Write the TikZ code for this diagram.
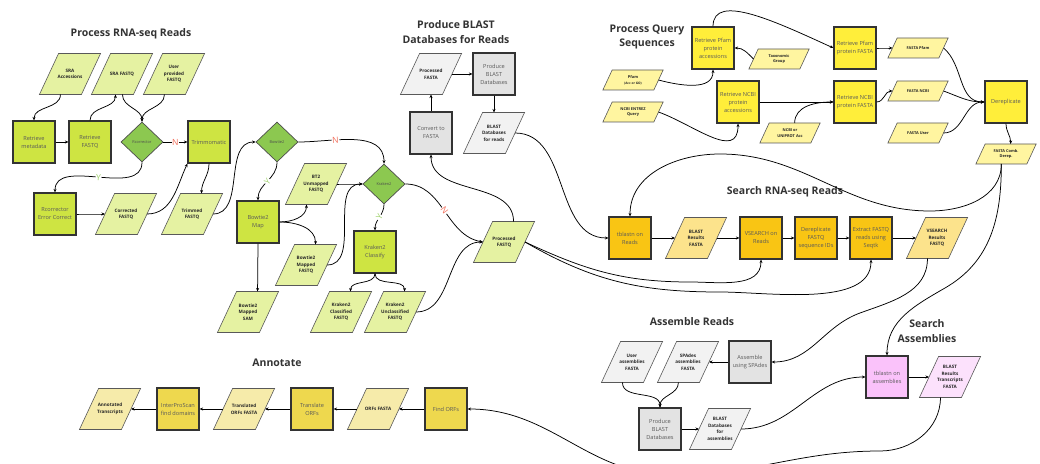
\documentclass[tikz,border=0pt]{standalone}
\usepackage{fontspec}
\setmainfont{Open Sans}
\usepackage{tikz}
\usetikzlibrary{arrows.meta,positioning,calc,shapes.geometric}
\definecolor{limebox}{RGB}{206,228,66}
\definecolor{limepara}{RGB}{229,242,162}
\definecolor{greendiam}{RGB}{140,200,80}
\definecolor{graybox}{RGB}{227,227,227}
\definecolor{graypara}{RGB}{242,242,242}
\definecolor{yelbox}{RGB}{255,238,58}
\definecolor{yelpara}{RGB}{255,245,160}
\definecolor{orbox}{RGB}{249,197,20}
\definecolor{orpara}{RGB}{252,227,140}
\definecolor{annbox}{RGB}{238,216,78}
\definecolor{annpara}{RGB}{246,235,170}
\definecolor{pinkbox}{RGB}{250,194,250}
\definecolor{pinkpara}{RGB}{252,225,252}
\definecolor{yesgreen}{RGB}{160,210,110}
\definecolor{nored}{RGB}{242,110,90}
\newcommand{\boxfont}{\fontsize{5.6}{8}\selectfont}
\newcommand{\parafont}{\fontsize{4.6}{6.6}\selectfont\bfseries}
\newcommand{\qparafont}{\fontsize{3.9}{5.8}\selectfont\bfseries}
\newcommand{\diamfont}{\fontsize{3.9}{5}\selectfont}
\newcommand{\headfont}{\fontsize{10.5}{14.5}\selectfont\bfseries}

% slanted data box: body is a rectangle, sides lean right
\makeatletter
\newdimen\sb@xa \newdimen\sb@ya \newdimen\sb@xb \newdimen\sb@yb \newdimen\sb@s
\def\sb@getsize{%
  \southwest\sb@xa=\pgf@x\sb@ya=\pgf@y
  \northeast\sb@xb=\pgf@x\sb@yb=\pgf@y
  \sb@s=\sb@yb\advance\sb@s by-\sb@ya
  \sb@s=0.233\sb@s}
\pgfdeclareshape{slantbox}{%
  \inheritsavedanchors[from=rectangle]%
  \inheritanchorborder[from=rectangle]%
  \inheritanchor[from=rectangle]{center}%
  \inheritanchor[from=rectangle]{text}%
  \inheritanchor[from=rectangle]{base}%
  \inheritanchor[from=rectangle]{mid}%
  \inheritanchor[from=rectangle]{north}%
  \inheritanchor[from=rectangle]{south}%
  \inheritanchor[from=rectangle]{east}%
  \inheritanchor[from=rectangle]{west}%
  \anchor{top side}{\sb@getsize
    \pgf@x=\dimexpr(\sb@xa+\sb@xb)/2+\sb@s\relax \pgf@y=\sb@yb}%
  \anchor{bottom side}{\sb@getsize
    \pgf@x=\dimexpr(\sb@xa+\sb@xb)/2-\sb@s\relax \pgf@y=\sb@ya}%
  \backgroundpath{\sb@getsize
    \pgfpathmoveto{\pgfqpoint{\dimexpr\sb@xa-\sb@s\relax}{\sb@ya}}%
    \pgfpathlineto{\pgfqpoint{\dimexpr\sb@xb-\sb@s\relax}{\sb@ya}}%
    \pgfpathlineto{\pgfqpoint{\dimexpr\sb@xb+\sb@s\relax}{\sb@yb}}%
    \pgfpathlineto{\pgfqpoint{\dimexpr\sb@xa+\sb@s\relax}{\sb@yb}}%
    \pgfpathclose}%
}
\makeatother

\begin{document}
\begin{tikzpicture}[x=1pt, y=1pt,
    box/.style={rectangle, draw=black!80, line width=1.2pt, minimum width=42pt,
        minimum height=42pt, inner sep=1pt, align=center, font=\boxfont, text=black!65},
    para/.style={shape=slantbox, draw=black!65, line width=0.6pt, minimum width=42pt,
        minimum height=41pt, inner sep=0.5pt, outer sep=0pt, align=center, font=\parafont,
        text=black!85},
    qpara/.style={para, minimum width=51pt, minimum height=20pt, font=\qparafont},
    dec/.style={diamond, draw=black!70, line width=0.7pt, fill=greendiam, minimum width=42pt,
        minimum height=40pt, inner sep=0pt, font=\diamfont, text=black!70},
    heading/.style={font=\headfont, text=black!80, align=center},
    arr/.style={-{Stealth[length=3.5pt,width=3pt]}, line width=0.75pt},
    ylab/.style={fill=white, inner sep=0.6pt, sloped, font=\fontsize{8.5}{8.5}\selectfont, text=yesgreen},
    nlab/.style={fill=white, inner sep=0.6pt, sloped, font=\fontsize{8.5}{8.5}\selectfont, text=nored}
]
\useasboundingbox (0,0) rectangle (1040,463);

% process RNA-seq reads
\node[heading] (tproc) at (131,429) {Process RNA-seq Reads};
\node[para, fill=limepara] (sraacc) at (70,389) {SRA\\Accessions};
\node[para, fill=limepara] (srafq) at (122,389) {SRA FASTQ};
\node[para, fill=limepara] (userfq) at (174,389) {User\\provided\\FASTQ};
\node[box, fill=limebox] (retmeta) at (34,321) {Retrieve\\metadata};
\node[box, fill=limebox] (retfq) at (90,321) {Retrieve\\FASTQ};
\node[dec] (rcor) at (142,321) {Rcorrector};
\node[box, fill=limebox] (trim) at (209,321) {Trimmomatic};
\node[dec] (bt2) at (277,321) {Bowtie2};
\node[box, fill=limebox] (rcorec) at (55,249) {Rcorrector\\Error Correct};
\node[para, fill=limepara] (corrfq) at (126,249) {Corrected\\FASTQ};
\node[para, fill=limepara] (trimfq) at (192,249) {Trimmed\\FASTQ};
\node[box, fill=limebox] (bt2map) at (258,241) {Bowtie2\\Map};
\node[para, fill=limepara] (bt2unm) at (316,279) {BT2\\Unmapped\\FASTQ};
\node[dec] (kr2) at (384,279) {Kraken2};
\node[para, fill=limepara] (bt2mfq) at (306,198) {Bowtie2\\Mapped\\FASTQ};
\node[para, fill=limepara] (bt2sam) at (248,151) {Bowtie2\\Mapped\\SAM};
\node[box, fill=limebox] (kr2cls) at (375,211) {Kraken2\\Classify};
\node[para, fill=limepara] (kr2cfq) at (341,151) {Kraken2\\Classified\\FASTQ};
\node[para, fill=limepara] (kr2ufq) at (395,151) {Kraken2\\Unclassified\\FASTQ};
\node[para, fill=limepara] (procfq) at (504,221) {Processed\\FASTQ};

\draw[arr] (sraacc.bottom side) to[out=-90,in=90] (retmeta.north);
\draw[arr] (retfq.north) to[out=90,in=-90] ([xshift=3pt]srafq.bottom side);
\draw[arr] ([xshift=10pt]srafq.bottom side) to[out=-90,in=90] (rcor.north);
\draw[arr] (userfq.bottom side) to[out=-90,in=90] (rcor.north);
\draw[arr] (retmeta) -- (retfq);
\draw[arr] (rcor) -- node[nlab]{N} (trim);
\draw[arr] (rcor.south) to[out=-90,in=90] node[ylab]{Y} (rcorec.north);
\draw[arr] (rcorec.east) to[out=0,in=180] (corrfq.west);
\draw[arr] (corrfq.east) to[out=0,in=-115] (trim.south west);
\draw[arr] (trim.south) to[out=-90,in=90] (trimfq.top side);
\draw[arr] (trimfq.east) to[out=0,in=180] (bt2.west);
\draw[arr] (bt2.south) to[out=-90,in=90] node[ylab]{Y} (bt2map.north);
\draw[arr] (bt2.east) to[out=0,in=90] node[nlab, pos=0.33]{N} (kr2.north);
\draw[arr] (bt2map.east) to[out=0,in=-90] (bt2unm.bottom side);
\draw[arr] (bt2map.east) to[out=0,in=90] (bt2mfq.top side);
\draw[arr] (bt2unm.east) to[out=0,in=180] (kr2.west);
\draw[arr] (bt2mfq.east) to[out=0,in=180] (kr2.west);
\draw[arr] (bt2map.south) -- (bt2sam.top side);
\draw[arr] (kr2.south) to[out=-90,in=90] node[ylab]{Y} (kr2cls.north);
\draw[arr] (kr2cls.south) to[out=-90,in=90] (kr2cfq.top side);
\draw[arr] (kr2cls.south) to[out=-90,in=90] (kr2ufq.top side);
\draw[arr] (kr2ufq.east) to[out=0,in=180] (procfq.west);
\draw[arr] (kr2.east) to[out=0,in=170] node[nlab]{N} (procfq.west);

% blast databases for reads
\node[heading] (tdbr) at (456,431) {Produce BLAST\\Databases for Reads};
\node[para, fill=graypara] (procfa) at (431,389) {Processed\\FASTA};
\node[box, fill=graybox] (convfa) at (431,330) {Convert to\\FASTA};
\node[box, fill=graybox] (prodbr) at (494,389) {Produce\\BLAST\\Databases};
\node[para, fill=graypara] (dbreads) at (494,330) {BLAST\\Databases\\for reads};

\draw[arr] (procfq.top side) to[out=90,in=-90] (convfa.south);
\draw[arr] (convfa.north) -- (convfa.north |- procfa.bottom side);
\draw[arr] (procfa.east) -- (prodbr.west);
\draw[arr] (prodbr.south) -- (prodbr.south |- dbreads.top side);

% process query sequences
\node[heading] (tquery) at (647,426) {Process Query\\Sequences};
\node[qpara, fill=yelpara] (pfam) at (633,383) {Pfam\\{\fontsize{3.2}{5}\selectfont(Acc or GO)}};
\node[qpara, fill=yelpara] (entrez) at (633,351) {NCBI ENTREZ\\Query};
\node[box, fill=yelbox] (retpfacc) at (713,415) {Retrieve Pfam\\protein\\accessions};
\node[box, fill=yelbox] (retncacc) at (738,361) {Retrieve NCBI\\protein\\accessions};
\node[qpara, fill=yelpara] (taxgrp) at (779,404) {Taxonomic\\Group};
\node[box, fill=yelbox] (retpffa) at (855,415) {Retrieve Pfam\\protein FASTA};
\node[box, fill=yelbox] (retncfa) at (855,361) {Retrieve NCBI\\protein FASTA};
\node[qpara, fill=yelpara] (uniacc) at (790,330) {NCBI or\\UNIPROT Acc};
\node[qpara, fill=yelpara] (fapfam) at (918,415) {FASTA Pfam};
\node[qpara, fill=yelpara] (fancbi) at (918,372) {FASTA NCBI};
\node[qpara, fill=yelpara] (fauser) at (918,330) {FASTA User};
\node[box, fill=yelbox] (derep) at (1006,361) {Dereplicate};
\node[qpara, fill=yelpara] (facomb) at (1006,309) {FASTA Comb.\\Derep.};

\draw[arr] (pfam.east) to[out=-15,in=-90] (retpfacc.south);
\draw[arr] (entrez.east) to[out=-20,in=-90,looseness=1.2] (retncacc.south);
\draw[arr] (taxgrp.west) to[out=135,in=0] (retpfacc.east);
\draw[arr] (retpfacc.north) .. controls +(0,35) and +(-55,25) .. (retpffa.west);
\draw[arr] (retncacc) -- (retncfa);
\draw[arr] (uniacc.top side) to[out=90,in=180] (retncfa.west);
\draw[arr] (retpffa.east) to[out=0,in=180] (fapfam.west);
\draw[arr] (retncfa.east) to[out=0,in=180] (fancbi.west);
\draw[arr] (fapfam.east) to[out=-40,in=180] (derep.west);
\draw[arr] (fancbi.east) to[out=-20,in=180] (derep.west);
\draw[arr] (fauser.east) to[out=0,in=180] (derep.west);
\draw[arr] (derep.south) to[out=-90,in=90] (facomb.top side);

% search RNA-seq reads
\node[heading] (tsearch) at (785,271) {Search RNA-seq Reads};
\node[box, fill=orbox] (tbnreads) at (630,225) {tblastn on\\Reads};
\node[para, fill=orpara] (blastres) at (696,225) {BLAST\\Results\\FASTA};
\node[box, fill=orbox] (vsreads) at (761,225) {VSEARCH on\\Reads};
\node[box, fill=orbox] (derepfq) at (816,225) {Dereplicate\\FASTQ\\sequence IDs};
\node[box, fill=orbox] (extract) at (871,225) {Extract FASTQ\\reads using\\Seqtk};
\node[para, fill=orpara] (vsresfq) at (937,225) {VSEARCH\\Results\\FASTQ};

\draw[arr] (tbnreads) -- (blastres);
\draw[arr] (blastres) -- (vsreads);
\draw[arr] (vsreads) -- (derepfq);
\draw[arr] (derepfq) -- (extract);
\draw[arr] (extract) -- (vsresfq);
\draw[arr] (dbreads.east) to[out=0,in=180] (tbnreads.west);
\draw[arr] (procfq.east) to[out=-25,in=180] (690,181) to[out=0,in=-90] (vsreads.south);
\draw[arr] (procfq.east) to[out=-30,in=180] (720,171) to[out=0,in=-90,looseness=0.8] (extract.south);
\draw[arr] (facomb.bottom side) to[out=-90,in=0] (930,252) to[out=180,in=0] (720,309)
    to[out=180,in=90] (tbnreads.north);

% assemble reads
\node[heading] (tasm) at (692,141) {Assemble Reads};
\node[para, fill=graypara] (userasm) at (632,101) {User\\assemblies\\FASTA};
\node[para, fill=graypara] (spasm) at (688,101) {SPAdes\\assemblies\\FASTA};
\node[box, fill=graybox] (spades) at (750,101) {Assemble\\using SPAdes};
\node[box, fill=graybox] (prodba) at (660,34) {Produce\\BLAST\\Databases};
\node[para, fill=graypara] (dbasm) at (720,34) {BLAST\\Databases\\for\\assemblies};

\draw[arr] (vsresfq.bottom side) to[out=-90,in=20] (860,150) to[out=200,in=0] (spades.east);
\draw[arr] (spades) -- (spasm);
\draw[arr] (userasm.bottom side) to[out=-90,in=90] (prodba.north);
\draw[arr] (spasm.bottom side) to[out=-90,in=90] (prodba.north);
\draw[arr] (prodba) -- (dbasm);

% search assemblies
\node[heading] (tsasm) at (927,132) {Search\\Assemblies};
\node[box, fill=pinkbox] (tbnasm) at (887,86) {tblastn on\\assemblies};
\node[para, fill=pinkpara] (blasttr) at (950,86) {BLAST\\Results\\Transcripts\\FASTA};

\draw[arr] (dbasm.east) to[out=0,in=180] (tbnasm.west);
\draw[arr] (tbnasm) -- (blasttr);
\draw[arr] (facomb.bottom side) to[out=-90,in=30] (945,175) to[out=210,in=90] (tbnasm.north);

% annotate
\node[heading] (tann) at (277,100) {Annotate};
\node[box, fill=annbox] (findorf) at (446,54) {Find ORFs};
\node[para, fill=annpara] (orffa) at (378,54) {ORFs FASTA};
\node[box, fill=annbox] (transorf) at (312,54) {Translate\\ORFs};
\node[para, fill=annpara] (transfa) at (244,54) {Translated\\ORFs FASTA};
\node[box, fill=annbox] (ipscan) at (178,54) {InterProScan\\find domains};
\node[para, fill=annpara] (annot) at (110,54) {Annotated\\Transcripts};

\draw[arr] (blasttr.bottom side) to[out=-90,in=0] (880,12) to[out=180,in=0] (672,-12)
    to[out=180,in=0] (findorf.east);
\draw[arr] (findorf) -- (orffa);
\draw[arr] (orffa) -- (transorf);
\draw[arr] (transorf) -- (transfa);
\draw[arr] (transfa) -- (ipscan);
\draw[arr] (ipscan) -- (annot);
\end{tikzpicture}
\end{document}
